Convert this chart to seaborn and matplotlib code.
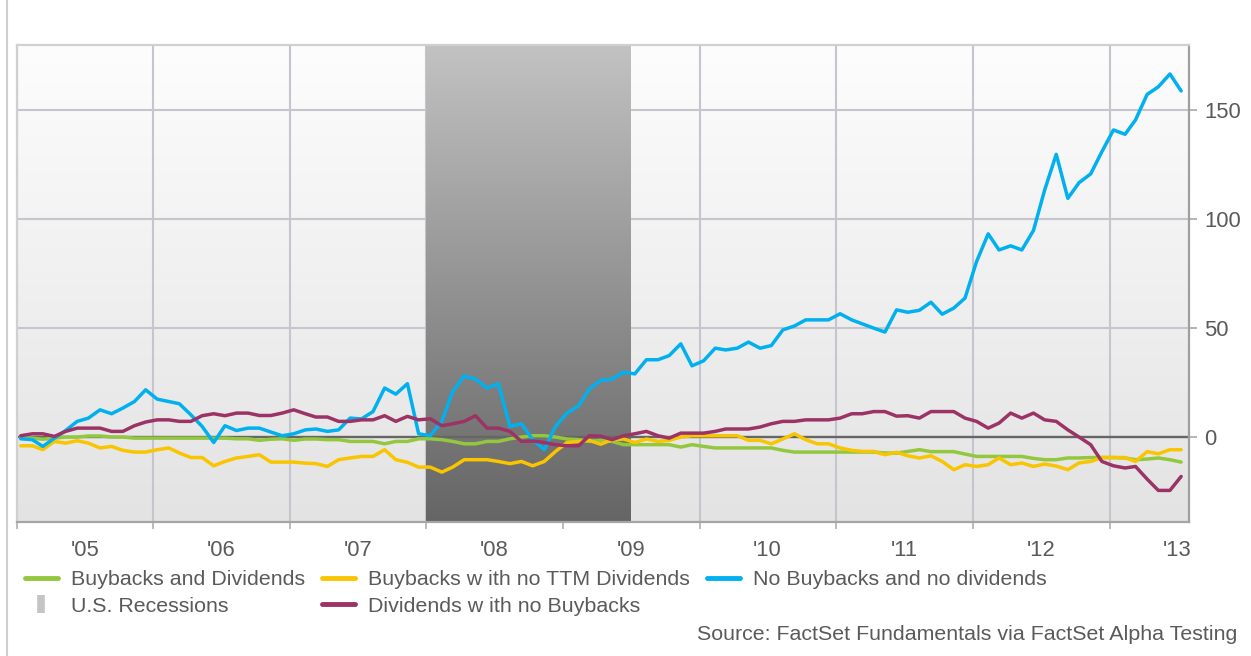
import numpy as np
import pandas as pd
import matplotlib
matplotlib.use("Agg")
import matplotlib.pyplot as plt
import matplotlib.dates as mdates
from matplotlib.colors import LinearSegmentedColormap
from matplotlib.lines import Line2D
import seaborn as sns

# Monthly relative performance (%) of four buyback/dividend portfolios
buybacks_and_dividends = [
    0.0, -0.5, -1.0, -0.5, 0.0, 0.0, 0.5, 0.5, 0.0, 0.0, -0.5, -0.5, -0.5, -0.5, -0.5,
    -0.5, -0.5, -0.5, -0.5, -0.8, -0.8, -1.5, -1.0, -0.8, -1.5,
    -0.9, -0.9, -1.2, -1.2, -2.0, -2.0, -2.0, -3.1, -2.0, -2.0, -0.8, -0.8, -1.2, -2.0,
    -3.1, -3.1, -2.0, -2.0, -0.8, 0.0, 0.6, 0.6, 0.0, -0.9, -1.2, -2.0,
    -1.5, -2.0, -3.5, -3.5, -3.5, -3.5, -3.5, -4.6, -3.5, -4.3, -5.0, -5.0, -5.0, -5.0,
    -5.0, -5.0, -6.1, -6.9, -6.9, -6.9, -6.9, -6.9, -6.9, -6.9, -6.9, -7.3, -7.4,
    -6.6, -5.8, -6.7, -6.7, -6.7, -7.8, -8.9, -8.9, -8.9, -8.9, -8.9, -9.8, -10.4, -10.4,
    -9.6, -9.6, -9.4, -9.4, -9.4, -9.6, -10.4, -10.1, -9.6, -10.4, -11.5,
]
buybacks_no_ttm_dividends = [
    -4.0, -4.0, -5.8, -2.0, -2.8, -1.7, -2.8, -5.0, -4.3, -6.1, -6.9, -6.9, -5.8, -5.0,
    -7.3, -9.4, -9.4, -13.2, -11.2, -9.6, -8.9, -8.1, -11.5, -11.5, -11.5,
    -12.0, -12.2, -13.5, -10.4, -9.6, -8.9, -8.9, -5.8, -10.4, -11.6, -13.8, -13.8, -16.1,
    -13.8, -10.4, -10.4, -10.4, -11.2, -12.2, -11.2, -13.2, -11.2, -6.6, -2.5, -2.0, -1.5,
    -3.3, -1.2, -0.9, -2.5, -0.9, -2.0, -1.5, 0.0, 0.6, 0.6, 0.6, 0.6, 0.6, -1.5, -1.5,
    -3.1, -0.9, 1.5, -1.2, -3.1, -3.1, -5.0, -6.1, -6.6, -6.6, -8.1, -7.0,
    -8.6, -9.6, -8.6, -11.2, -15.0, -12.7, -13.5, -12.7, -9.6, -12.7, -11.9, -13.5, -12.4,
    -13.3, -15.0, -11.9, -11.2, -9.4, -9.4, -9.4, -11.2, -6.7, -7.7, -5.8, -5.8,
]
no_buybacks_no_dividends = [
    -0.8, -1.2, -4.3, -0.5, 3.0, 7.2, 8.7, 12.5, 10.7, 13.3, 16.3, 21.7, 17.4, 16.3, 15.3,
    10.2, 4.9, -2.5, 5.2, 3.0, 4.1, 4.1, 2.3, 0.6, 1.5,
    3.3, 3.7, 2.6, 3.3, 8.7, 8.3, 11.7, 22.5, 19.7, 24.5, 1.5, 0.6, 7.2, 20.9, 28.1, 26.6,
    22.5, 24.5, 4.9, 6.1, -1.2, -5.8, 4.9, 11.0, 14.4, 22.0,
    26.0, 26.6, 29.8, 29.0, 35.5, 35.5, 37.4, 42.8, 32.7, 35.0, 40.8, 40.0, 40.8, 43.6,
    40.8, 42.0, 49.2, 51.0, 53.8, 53.8, 53.8, 56.6, 53.8, 52.0, 50.0, 48.2, 58.4,
    57.3, 58.2, 61.9, 56.4, 59.2, 63.8, 80.6, 93.3, 85.9, 87.8, 85.9, 94.8, 113.4, 129.8,
    109.6, 116.8, 120.8, 131.0, 141.0, 139.0, 145.6, 157.3, 160.8, 166.7, 158.9,
]
dividends_no_buybacks = [
    0.6, 1.5, 1.5, 0.3, 2.6, 4.1, 4.1, 4.1, 2.6, 2.6, 5.2, 6.9, 7.9, 7.9, 7.2, 7.2, 9.8,
    10.7, 9.8, 11.0, 11.0, 9.9, 9.9, 11.0, 12.5,
    10.7, 9.2, 9.2, 7.2, 7.2, 7.9, 7.9, 9.8, 7.2, 9.5, 7.9, 8.4, 5.2, 6.1, 7.2, 9.8, 4.1,
    4.1, 2.6, -2.0, -1.8, -2.5, -3.5, -4.0, -4.0, 0.6,
    0.4, -1.2, 0.6, 1.5, 2.6, 0.6, -0.5, 1.8, 1.8, 1.8, 2.6, 3.7, 3.7, 3.7, 4.6, 6.1, 7.2,
    7.2, 7.9, 7.9, 7.9, 8.7, 10.7, 10.7, 11.7, 11.7, 9.6,
    9.8, 8.7, 11.7, 11.7, 11.7, 8.7, 7.2, 4.1, 6.4, 11.0, 8.7, 11.0, 7.9, 7.2, 3.3, 0.0,
    -3.5, -11.2, -13.2, -14.2, -13.5, -19.3, -24.5, -24.5, -18.1,
]

series_names = [
    "Buybacks and Dividends",
    "Buybacks w ith no TTM Dividends",
    "No Buybacks and no dividends",
    "Dividends w ith no Buybacks",
]
series_colors = ["#93c83e", "#f8c500", "#00b0ef", "#9b3366"]
recession_label = "U.S. Recessions"
recession_start, recession_end = "2008-01-01", "2009-07-01"
year_labels = ["'05", "'06", "'07", "'08", "'09", "'10", "'11", "'12", "'13"]
y_ticks = [0, 50, 100, 150]
source_text = "Source: FactSet Fundamentals via FactSet Alpha Testing"

dates = pd.date_range("2005-01-01", periods=len(no_buybacks_no_dividends), freq="MS") + pd.Timedelta(days=10)
frames = []
for name, vals in zip(series_names, [buybacks_and_dividends, buybacks_no_ttm_dividends,
                                     no_buybacks_no_dividends, dividends_no_buybacks]):
    frames.append(pd.DataFrame({"date": dates, "value": vals, "series": name}))
df = pd.concat(frames, ignore_index=True)

sns.set_style("white")
plt.rcParams["font.family"] = ["Liberation Sans", "DejaVu Sans"]
text_color = "#5a5a5a"
label_size = 15.4

fig = plt.figure(figsize=(12.51, 6.56), dpi=100)
ax = fig.add_axes([17 / 1251, 1 - 522 / 656, (1189 - 17) / 1251, (522 - 45) / 656])

x0 = mdates.date2num(pd.Timestamp("2005-01-01"))
x1 = mdates.date2num(pd.Timestamp("2013-08-01"))
ymin, ymax = -39, 180

# plot-area gradient background
bg_cmap = LinearSegmentedColormap.from_list("bg", ["#e3e3e3", "#fdfdfd"])
ax.imshow(np.linspace(0, 1, 256).reshape(-1, 1), extent=[x0, x1, ymin, ymax], origin="lower",
          aspect="auto", cmap=bg_cmap, zorder=0.1, interpolation="bicubic")

# recession band with vertical gradient
rec_cmap = LinearSegmentedColormap.from_list("rec", ["#656565", "#c2c2c2"])
r0 = mdates.date2num(pd.Timestamp(recession_start))
r1 = mdates.date2num(pd.Timestamp(recession_end))
ax.imshow(np.linspace(0, 1, 256).reshape(-1, 1), extent=[r0, r1, ymin, ymax], origin="lower",
          aspect="auto", cmap=rec_cmap, zorder=1, interpolation="bicubic")

ax.axhline(0, color="#666666", lw=1.7, zorder=2)

sns.lineplot(data=df, x="date", y="value", hue="series", hue_order=series_names,
             palette=series_colors, linewidth=2.5, legend=False, ax=ax, zorder=3)

ax.set_xlim(x0, x1)
ax.set_ylim(ymin, ymax)
ax.set_xlabel("")
ax.set_ylabel("")

# axes, ticks, grid
ax.set_axisbelow(True)
ax.xaxis.set_major_locator(mdates.YearLocator())
ax.xaxis.set_major_formatter(plt.NullFormatter())
ax.xaxis.set_minor_locator(mdates.MonthLocator(bymonth=7, bymonthday=1))
ax.xaxis.set_minor_formatter(plt.FixedFormatter(year_labels))
ax.tick_params(axis="x", which="major", length=5, width=1.2, color="#b0b0b0", bottom=True)
ax.tick_params(axis="x", which="minor", length=0, pad=13, labelsize=label_size + 0.4,
               labelcolor=text_color)

ax.yaxis.tick_right()
ax.set_yticks(y_ticks)
ax.tick_params(axis="y", length=6, width=1.2, color="#a8a8a8", pad=5, labelsize=label_size + 0.4,
               labelcolor=text_color, right=True, left=False)

ax.grid(True, which="major", axis="both", color="#c6c4cc", linewidth=1.5)

for side, col in [("top", "#d0d0d0"), ("left", "#d0d0d0"), ("right", "#9f9f9f"), ("bottom", "#a5a5a5")]:
    ax.spines[side].set_visible(True)
    ax.spines[side].set_color(col)
    ax.spines[side].set_linewidth(1.6)

# legend
handles = [
    Line2D([], [], color=series_colors[0], lw=3.5),
    Line2D([], [], ls="none", marker="|", markersize=13, markeredgewidth=5.5, color="#c4c4c4"),
    Line2D([], [], color=series_colors[1], lw=3.5),
    Line2D([], [], color=series_colors[3], lw=3.5),
    Line2D([], [], color=series_colors[2], lw=3.5),
]
labels = [series_names[0], recession_label, series_names[1], series_names[3], series_names[2]]
leg = fig.legend(handles, labels, ncol=3, loc="upper left", bbox_to_anchor=(25 / 1251, 1 - 570 / 656),
                 frameon=False, fontsize=label_size, handlelength=1.54, handletextpad=0.6,
                 columnspacing=0.8, labelspacing=0.37, borderpad=0, borderaxespad=0)
for t in leg.get_texts():
    t.set_color(text_color)

fig.text(1237 / 1251, 1 - 634 / 656, source_text, ha="right", va="center", fontsize=label_size,
         color=text_color)

fig.add_artist(Line2D([7 / 1251, 7 / 1251], [0, 1], color="#cfcfcf", lw=1.5, transform=fig.transFigure))

fig.savefig("out.png", dpi=100, facecolor="white")
